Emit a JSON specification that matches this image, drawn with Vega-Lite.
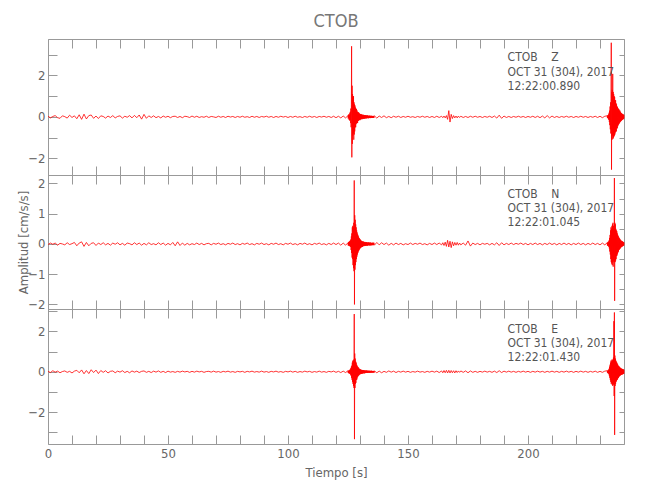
{
"$schema":"https://vega.github.io/schema/vega-lite/v6.json",
"background":"white",
"padding":{"left":16,"top":12,"right":5,"bottom":5},
"datasets":{"d":[
{"t":0,"z":0.03,"n":-0.02,"e":0.02},{"t":1,"z":-0.05,"n":0.03,"e":-0.04},{"t":2,"z":0.02,"n":-0.01,"e":0.05},{"t":3,"z":0.06,"n":0.03,"e":-0.02},{"t":4,"z":-0.04,"n":-0.04,"e":0.03},{"t":5,"z":-0.07,"n":0.02,"e":-0.05},{"t":6,"z":0.05,"n":0.0,"e":0.01},{"t":7,"z":0.01,"n":-0.03,"e":0.04},{"t":8,"z":-0.06,"n":0.04,"e":-0.03},{"t":9,"z":0.08,"n":-0.02,"e":0.02},
{"t":10,"z":-0.03,"n":0.01,"e":-0.06},{"t":11,"z":0.05,"n":0.05,"e":0.03},{"t":12,"z":-0.09,"n":-0.06,"e":0.07},{"t":13,"z":0.1,"n":0.03,"e":-0.05},{"t":14,"z":-0.12,"n":0.07,"e":0.09},{"t":15,"z":0.13,"n":-0.08,"e":-0.1},{"t":16,"z":-0.1,"n":0.05,"e":0.06},{"t":17,"z":0.06,"n":-0.06,"e":-0.09},{"t":18,"z":0.09,"n":0.02,"e":0.1},{"t":19,"z":-0.07,"n":0.04,"e":-0.04},
{"t":20,"z":0.04,"n":-0.05,"e":0.08},{"t":21,"z":-0.08,"n":0.03,"e":-0.09},{"t":22,"z":0.05,"n":-0.02,"e":0.06},{"t":23,"z":0.02,"n":0.04,"e":-0.03},{"t":24,"z":-0.06,"n":-0.03,"e":0.05},{"t":25,"z":0.04,"n":0.02,"e":-0.06},{"t":26,"z":-0.03,"n":-0.04,"e":0.02},{"t":27,"z":0.06,"n":0.03,"e":0.04},{"t":28,"z":-0.05,"n":-0.01,"e":-0.05},{"t":29,"z":0.02,"n":0.04,"e":0.03},
{"t":30,"z":0.05,"n":-0.03,"e":-0.02},{"t":31,"z":-0.06,"n":0.02,"e":0.05},{"t":32,"z":0.03,"n":-0.04,"e":-0.04},{"t":33,"z":-0.02,"n":0.03,"e":0.02},{"t":34,"z":0.06,"n":0.01,"e":-0.05},{"t":35,"z":-0.05,"n":-0.03,"e":0.04},{"t":36,"z":0.07,"n":0.04,"e":-0.02},{"t":37,"z":-0.04,"n":-0.02,"e":0.03},{"t":38,"z":0.09,"n":0.03,"e":-0.04},{"t":39,"z":-0.11,"n":-0.04,"e":0.02},
{"t":40,"z":0.12,"n":0.02,"e":0.04},{"t":41,"z":-0.07,"n":-0.03,"e":-0.03},{"t":42,"z":0.05,"n":0.04,"e":0.02},{"t":43,"z":-0.03,"n":-0.02,"e":-0.04},{"t":44,"z":0.05,"n":0.01,"e":0.03},{"t":45,"z":-0.04,"n":-0.03,"e":-0.02},{"t":46,"z":0.02,"n":0.04,"e":0.04},{"t":47,"z":-0.05,"n":-0.02,"e":-0.03},{"t":48,"z":0.04,"n":0.03,"e":0.02},{"t":49,"z":-0.02,"n":-0.04,"e":-0.04},
{"t":50,"z":0.03,"n":0.02,"e":0.03},{"t":51,"z":-0.04,"n":-0.03,"e":-0.02},{"t":52,"z":0.02,"n":0.05,"e":0.01},{"t":53,"z":0.03,"n":-0.06,"e":-0.03},{"t":54,"z":-0.03,"n":0.07,"e":0.02},{"t":55,"z":0.02,"n":-0.05,"e":-0.02},{"t":56,"z":-0.04,"n":0.03,"e":0.03},{"t":57,"z":0.03,"n":-0.04,"e":-0.01},{"t":58,"z":0.01,"n":0.02,"e":0.02},{"t":59,"z":-0.03,"n":-0.03,"e":-0.03},
{"t":60,"z":0.04,"n":0.01,"e":0.02},{"t":61,"z":-0.02,"n":-0.02,"e":-0.02},{"t":62,"z":0.03,"n":0.03,"e":0.03},{"t":63,"z":-0.03,"n":-0.02,"e":-0.01},{"t":64,"z":0.01,"n":0.02,"e":0.02},{"t":65,"z":-0.02,"n":-0.03,"e":-0.03},{"t":66,"z":0.03,"n":0.01,"e":0.01},{"t":67,"z":-0.03,"n":0.02,"e":0.02},{"t":68,"z":0.02,"n":-0.03,"e":-0.02},{"t":69,"z":0.0,"n":0.02,"e":0.03},
{"t":70,"z":-0.03,"n":-0.01,"e":-0.02},{"t":71,"z":0.03,"n":0.03,"e":0.01},{"t":72,"z":-0.02,"n":-0.02,"e":-0.03},{"t":73,"z":0.02,"n":0.01,"e":0.02},{"t":74,"z":-0.03,"n":-0.03,"e":-0.01},{"t":75,"z":0.03,"n":0.02,"e":0.03},{"t":76,"z":-0.01,"n":-0.01,"e":-0.02},{"t":77,"z":0.02,"n":0.03,"e":0.01},{"t":78,"z":-0.03,"n":-0.02,"e":-0.03},{"t":79,"z":0.02,"n":0.01,"e":0.02},
{"t":80,"z":-0.02,"n":-0.03,"e":-0.01},{"t":81,"z":0.03,"n":0.02,"e":0.02},{"t":82,"z":-0.02,"n":-0.01,"e":-0.03},{"t":83,"z":0.01,"n":0.03,"e":0.02},{"t":84,"z":-0.03,"n":-0.02,"e":-0.01},{"t":85,"z":0.03,"n":0.01,"e":0.03},{"t":86,"z":-0.02,"n":-0.03,"e":-0.02},{"t":87,"z":0.02,"n":0.02,"e":0.01},{"t":88,"z":-0.03,"n":-0.01,"e":-0.02},{"t":89,"z":0.02,"n":0.03,"e":0.03},
{"t":90,"z":-0.01,"n":-0.02,"e":-0.02},{"t":91,"z":0.03,"n":0.01,"e":0.01},{"t":92,"z":-0.02,"n":-0.03,"e":-0.03},{"t":93,"z":0.02,"n":0.02,"e":0.02},{"t":94,"z":-0.03,"n":-0.01,"e":-0.01},{"t":95,"z":0.02,"n":0.03,"e":0.03},{"t":96,"z":-0.02,"n":-0.02,"e":-0.02},{"t":97,"z":0.03,"n":0.01,"e":0.01},{"t":98,"z":-0.01,"n":-0.03,"e":-0.03},{"t":99,"z":0.02,"n":0.02,"e":0.02},
{"t":100,"z":-0.03,"n":-0.01,"e":-0.01},{"t":101,"z":0.02,"n":0.03,"e":0.03},{"t":102,"z":-0.02,"n":-0.02,"e":-0.02},{"t":103,"z":0.03,"n":0.01,"e":0.02},{"t":104,"z":-0.02,"n":-0.03,"e":-0.03},{"t":105,"z":0.01,"n":0.02,"e":0.01},{"t":106,"z":-0.03,"n":-0.01,"e":-0.02},{"t":107,"z":0.02,"n":0.03,"e":0.03},{"t":108,"z":-0.02,"n":-0.02,"e":-0.01},{"t":109,"z":0.03,"n":0.01,"e":0.02},
{"t":110,"z":-0.02,"n":-0.03,"e":-0.03},{"t":111,"z":0.02,"n":0.02,"e":0.01},{"t":112,"z":-0.03,"n":-0.01,"e":-0.02},{"t":113,"z":0.02,"n":0.03,"e":0.03},{"t":114,"z":-0.01,"n":-0.02,"e":-0.02},{"t":115,"z":0.03,"n":0.01,"e":0.01},{"t":116,"z":-0.02,"n":-0.03,"e":-0.03},{"t":117,"z":0.02,"n":0.02,"e":0.02},{"t":118,"z":-0.03,"n":-0.02,"e":-0.01},{"t":119,"z":0.03,"n":0.03,"e":0.03},
{"t":120,"z":-0.04,"n":-0.02,"e":-0.03},{"t":121,"z":0.03,"n":0.03,"e":0.02},{"t":122,"z":-0.05,"n":-0.04,"e":-0.04},{"t":123,"z":0.04,"n":0.03,"e":0.03},{"t":124,"z":-0.05,"n":-0.04,"e":-0.04},
{"t":125.0,"z":0.06,"n":0.04,"e":0.05},{"t":125.1,"z":-0.08,"n":-0.05,"e":-0.06},{"t":125.2,"z":0.1,"n":0.06,"e":0.05},{"t":125.3,"z":-0.07,"n":-0.05,"e":-0.07},{"t":125.4,"z":0.12,"n":0.07,"e":0.06},{"t":125.5,"z":-0.15,"n":-0.06,"e":-0.08},{"t":125.6,"z":0.1,"n":0.08,"e":0.07},{"t":125.7,"z":-0.18,"n":-0.07,"e":-0.09},{"t":125.8,"z":0.2,"n":0.1,"e":0.1},{"t":125.9,"z":-0.15,"n":-0.08,"e":-0.1},
{"t":126.0,"z":0.25,"n":0.12,"e":0.12},{"t":126.1,"z":-0.3,"n":-0.1,"e":-0.15},{"t":126.2,"z":0.4,"n":0.15,"e":0.18},{"t":126.3,"z":-0.5,"n":-0.2,"e":-0.2},{"t":126.4,"z":0.6,"n":0.25,"e":0.25},{"t":126.5,"z":3.4,"n":-0.3,"e":-0.3},{"t":126.6,"z":-1.95,"n":0.35,"e":0.3},{"t":126.7,"z":1.5,"n":-0.45,"e":-0.4},{"t":126.8,"z":-1.3,"n":0.55,"e":0.45},{"t":126.9,"z":1.1,"n":-0.5,"e":-0.5},
{"t":127.0,"z":-0.9,"n":0.6,"e":0.55},{"t":127.1,"z":0.95,"n":-0.7,"e":-0.6},{"t":127.2,"z":-0.8,"n":0.55,"e":0.5},{"t":127.3,"z":1.0,"n":-0.8,"e":-0.7},{"t":127.4,"z":-1.1,"n":0.7,"e":0.6},{"t":127.5,"z":0.7,"n":-0.9,"e":-0.8},{"t":127.6,"z":-0.85,"n":2.1,"e":2.85},{"t":127.7,"z":0.6,"n":-2.0,"e":-3.33},{"t":127.8,"z":-0.7,"n":0.95,"e":0.9},{"t":127.9,"z":0.55,"n":-0.85,"e":-0.8},
{"t":128.0,"z":-0.5,"n":0.8,"e":0.65},{"t":128.1,"z":0.45,"n":-0.7,"e":-0.6},{"t":128.2,"z":-0.5,"n":0.65,"e":0.5},{"t":128.3,"z":0.4,"n":-0.6,"e":-0.55},{"t":128.4,"z":-0.35,"n":0.55,"e":0.45},{"t":128.5,"z":0.38,"n":-0.5,"e":-0.4},{"t":128.6,"z":-0.3,"n":0.45,"e":0.35},{"t":128.7,"z":0.32,"n":-0.42,"e":-0.38},{"t":128.8,"z":-0.28,"n":0.38,"e":0.3},{"t":128.9,"z":0.25,"n":-0.35,"e":-0.28},
{"t":129.0,"z":-0.3,"n":0.32,"e":0.25},{"t":129.1,"z":0.22,"n":-0.3,"e":-0.24},{"t":129.2,"z":-0.2,"n":0.28,"e":0.22},{"t":129.3,"z":0.22,"n":-0.25,"e":-0.2},{"t":129.4,"z":-0.18,"n":0.24,"e":0.2},{"t":129.5,"z":0.2,"n":-0.22,"e":-0.18},{"t":129.6,"z":-0.16,"n":0.2,"e":0.16},{"t":129.7,"z":0.17,"n":-0.19,"e":-0.15},{"t":129.8,"z":-0.15,"n":0.18,"e":0.14},{"t":129.9,"z":0.14,"n":-0.16,"e":-0.13},
{"t":130.0,"z":-0.16,"n":0.15,"e":0.12},{"t":130.1,"z":0.13,"n":-0.14,"e":-0.12},{"t":130.2,"z":-0.12,"n":0.14,"e":0.11},{"t":130.3,"z":0.14,"n":-0.13,"e":-0.1},{"t":130.4,"z":-0.11,"n":0.12,"e":0.1},{"t":130.5,"z":0.12,"n":-0.11,"e":-0.11},{"t":130.6,"z":-0.1,"n":0.1,"e":0.09},{"t":130.7,"z":0.11,"n":-0.1,"e":-0.1},{"t":130.8,"z":-0.12,"n":0.09,"e":0.09},{"t":130.9,"z":0.1,"n":-0.1,"e":-0.08},
{"t":131.0,"z":-0.09,"n":0.08,"e":0.08},{"t":131.1,"z":0.1,"n":-0.09,"e":-0.09},{"t":131.2,"z":-0.1,"n":0.08,"e":0.08},{"t":131.3,"z":0.08,"n":-0.07,"e":-0.07},{"t":131.4,"z":-0.09,"n":0.08,"e":0.08},{"t":131.5,"z":0.1,"n":-0.07,"e":-0.07},{"t":131.6,"z":-0.08,"n":0.06,"e":0.07},{"t":131.7,"z":0.07,"n":-0.07,"e":-0.08},{"t":131.8,"z":-0.09,"n":0.06,"e":0.06},{"t":131.9,"z":0.08,"n":-0.06,"e":-0.07},
{"t":132.0,"z":-0.07,"n":0.07,"e":0.06},{"t":132.1,"z":0.08,"n":-0.06,"e":-0.07},{"t":132.2,"z":-0.08,"n":0.05,"e":0.06},{"t":132.3,"z":0.07,"n":-0.06,"e":-0.06},{"t":132.4,"z":-0.06,"n":0.06,"e":0.05},{"t":132.5,"z":0.08,"n":-0.05,"e":-0.06},{"t":132.6,"z":-0.07,"n":0.06,"e":0.06},{"t":132.7,"z":0.06,"n":-0.05,"e":-0.05},{"t":132.8,"z":-0.07,"n":0.05,"e":0.06},{"t":132.9,"z":0.06,"n":-0.06,"e":-0.05},
{"t":133.0,"z":-0.06,"n":0.05,"e":0.05},{"t":133.1,"z":0.07,"n":-0.05,"e":-0.06},{"t":133.2,"z":-0.05,"n":0.04,"e":0.05},{"t":133.3,"z":0.06,"n":-0.05,"e":-0.05},{"t":133.4,"z":-0.07,"n":0.05,"e":0.04},{"t":133.5,"z":0.05,"n":-0.04,"e":-0.05},{"t":133.6,"z":-0.06,"n":0.05,"e":0.05},{"t":133.7,"z":0.05,"n":-0.04,"e":-0.04},{"t":133.8,"z":-0.06,"n":0.04,"e":0.05},{"t":133.9,"z":0.05,"n":-0.05,"e":-0.05},
{"t":134.0,"z":-0.05,"n":0.04,"e":0.04},{"t":134.1,"z":0.06,"n":-0.04,"e":-0.05},{"t":134.2,"z":-0.05,"n":0.05,"e":0.05},{"t":134.3,"z":0.05,"n":-0.04,"e":-0.04},{"t":134.4,"z":-0.06,"n":0.04,"e":0.04},{"t":134.5,"z":0.04,"n":-0.05,"e":-0.05},{"t":134.6,"z":-0.05,"n":0.04,"e":0.04},{"t":134.7,"z":0.05,"n":-0.04,"e":-0.04},{"t":134.8,"z":-0.04,"n":0.03,"e":0.05},{"t":134.9,"z":0.05,"n":-0.04,"e":-0.04},
{"t":135.0,"z":-0.05,"n":0.04,"e":0.04},{"t":135.1,"z":0.04,"n":-0.03,"e":-0.04},{"t":135.2,"z":-0.05,"n":0.04,"e":0.03},{"t":135.3,"z":0.04,"n":-0.04,"e":-0.04},{"t":135.4,"z":-0.04,"n":0.03,"e":0.04},{"t":135.5,"z":0.05,"n":-0.04,"e":-0.03},{"t":135.6,"z":-0.04,"n":0.04,"e":0.04},{"t":135.7,"z":0.04,"n":-0.03,"e":-0.04},{"t":135.8,"z":-0.05,"n":0.04,"e":0.03},{"t":135.9,"z":0.04,"n":-0.03,"e":-0.04},
{"t":136,"z":0.05,"n":-0.04,"e":0.04},{"t":137,"z":-0.06,"n":0.05,"e":-0.05},{"t":138,"z":0.04,"n":-0.03,"e":0.03},{"t":139,"z":-0.03,"n":0.04,"e":-0.05},{"t":140,"z":0.05,"n":-0.02,"e":0.02},{"t":141,"z":-0.04,"n":0.03,"e":-0.03},{"t":142,"z":0.02,"n":-0.04,"e":0.04},{"t":143,"z":-0.04,"n":0.02,"e":-0.02},{"t":144,"z":0.03,"n":-0.03,"e":0.03},{"t":145,"z":-0.02,"n":0.03,"e":-0.04},
{"t":146,"z":0.03,"n":-0.02,"e":0.02},{"t":147,"z":-0.03,"n":0.02,"e":-0.02},{"t":148,"z":0.02,"n":-0.03,"e":0.03},{"t":149,"z":-0.02,"n":0.01,"e":-0.02},{"t":150,"z":0.03,"n":-0.02,"e":0.02},{"t":151,"z":-0.02,"n":0.03,"e":-0.03},{"t":152,"z":0.01,"n":-0.02,"e":0.01},{"t":153,"z":-0.03,"n":0.02,"e":-0.02},{"t":154,"z":0.02,"n":-0.01,"e":0.03},{"t":155,"z":-0.02,"n":0.03,"e":-0.02},
{"t":156,"z":0.03,"n":-0.02,"e":0.01},{"t":157,"z":-0.02,"n":0.01,"e":-0.03},{"t":158,"z":0.02,"n":-0.03,"e":0.02},{"t":159,"z":-0.03,"n":0.02,"e":-0.02},{"t":160,"z":0.02,"n":-0.02,"e":0.03},{"t":161,"z":-0.03,"n":0.03,"e":-0.02},{"t":162,"z":0.03,"n":-0.02,"e":0.03},{"t":163,"z":-0.03,"n":0.03,"e":-0.04},
{"t":164,"z":0.03,"n":-0.03,"e":0.04},{"t":164.5,"z":-0.04,"n":0.04,"e":-0.05},{"t":165,"z":0.04,"n":-0.05,"e":0.06},{"t":165.5,"z":-0.05,"n":0.06,"e":-0.05},{"t":166,"z":0.06,"n":-0.08,"e":0.07},{"t":166.5,"z":-0.12,"n":0.12,"e":-0.06},{"t":167,"z":0.3,"n":-0.1,"e":0.07},{"t":167.5,"z":-0.25,"n":0.09,"e":-0.06},{"t":168,"z":0.12,"n":-0.12,"e":0.06},{"t":168.5,"z":-0.08,"n":0.07,"e":-0.05},
{"t":169,"z":0.06,"n":-0.06,"e":0.05},{"t":169.5,"z":-0.05,"n":0.05,"e":-0.06},{"t":170,"z":0.04,"n":-0.04,"e":0.05},{"t":170.5,"z":-0.05,"n":0.05,"e":-0.04},{"t":171,"z":0.04,"n":-0.04,"e":0.04},{"t":171.5,"z":-0.03,"n":0.03,"e":-0.03},{"t":172,"z":0.03,"n":-0.03,"e":0.04},
{"t":173,"z":-0.03,"n":0.03,"e":-0.03},{"t":174,"z":0.02,"n":-0.04,"e":0.04},{"t":175,"z":-0.03,"n":0.1,"e":-0.05},{"t":176,"z":0.03,"n":-0.07,"e":0.04},{"t":177,"z":-0.02,"n":0.03,"e":-0.03},{"t":178,"z":0.03,"n":-0.02,"e":0.02},{"t":179,"z":-0.02,"n":0.02,"e":-0.03},{"t":180,"z":0.02,"n":-0.03,"e":0.02},{"t":181,"z":-0.03,"n":0.02,"e":-0.02},{"t":182,"z":0.02,"n":-0.01,"e":0.03},
{"t":183,"z":-0.02,"n":0.02,"e":-0.02},{"t":184,"z":0.03,"n":-0.03,"e":0.02},{"t":185,"z":-0.03,"n":0.02,"e":-0.03},{"t":186,"z":0.04,"n":-0.03,"e":0.03},{"t":187,"z":-0.06,"n":0.04,"e":-0.04},{"t":188,"z":0.08,"n":-0.05,"e":0.05},{"t":189,"z":-0.07,"n":0.04,"e":-0.04},{"t":190,"z":0.04,"n":-0.03,"e":0.03},{"t":191,"z":-0.03,"n":0.02,"e":-0.02},{"t":192,"z":0.02,"n":-0.02,"e":0.03},
{"t":193,"z":-0.03,"n":0.03,"e":-0.02},{"t":194,"z":0.02,"n":-0.02,"e":0.02},{"t":195,"z":-0.02,"n":0.02,"e":-0.03},{"t":196,"z":0.03,"n":-0.01,"e":0.02},{"t":197,"z":-0.02,"n":0.03,"e":-0.02},{"t":198,"z":0.02,"n":-0.02,"e":0.03},{"t":199,"z":-0.03,"n":0.02,"e":-0.02},{"t":200,"z":0.02,"n":-0.03,"e":0.02},{"t":201,"z":-0.02,"n":0.02,"e":-0.03},{"t":202,"z":0.03,"n":-0.02,"e":0.02},
{"t":203,"z":-0.03,"n":0.03,"e":-0.02},{"t":204,"z":0.03,"n":-0.02,"e":0.03},{"t":205,"z":-0.04,"n":0.02,"e":-0.02},{"t":206,"z":0.04,"n":-0.03,"e":0.02},{"t":207,"z":-0.05,"n":0.02,"e":-0.03},{"t":208,"z":0.06,"n":-0.02,"e":0.02},{"t":209,"z":-0.05,"n":0.03,"e":-0.02},{"t":210,"z":0.04,"n":-0.02,"e":0.03},{"t":211,"z":-0.03,"n":0.02,"e":-0.02},{"t":212,"z":0.02,"n":-0.03,"e":0.02},
{"t":213,"z":-0.03,"n":0.02,"e":-0.03},{"t":214,"z":0.02,"n":-0.02,"e":0.02},{"t":215,"z":-0.02,"n":0.03,"e":-0.02},{"t":216,"z":0.03,"n":-0.02,"e":0.03},{"t":217,"z":-0.02,"n":0.02,"e":-0.02},{"t":218,"z":0.02,"n":-0.03,"e":0.02},{"t":219,"z":-0.03,"n":0.02,"e":-0.03},{"t":220,"z":0.02,"n":-0.02,"e":0.02},{"t":221,"z":-0.02,"n":0.03,"e":-0.02},{"t":222,"z":0.03,"n":-0.02,"e":0.03},
{"t":223,"z":-0.02,"n":0.02,"e":-0.02},{"t":224,"z":0.02,"n":-0.03,"e":0.02},{"t":225,"z":-0.03,"n":0.02,"e":-0.03},{"t":226,"z":0.02,"n":-0.02,"e":0.02},{"t":227,"z":-0.02,"n":0.03,"e":-0.02},{"t":228,"z":0.03,"n":-0.02,"e":0.03},{"t":229,"z":-0.03,"n":0.02,"e":-0.03},{"t":230,"z":0.03,"n":-0.03,"e":0.02},{"t":231,"z":-0.04,"n":0.03,"e":-0.03},{"t":232,"z":0.03,"n":-0.03,"e":0.03},
{"t":233.0,"z":0.05,"n":0.04,"e":0.05},{"t":233.1,"z":-0.06,"n":-0.05,"e":-0.05},{"t":233.2,"z":0.07,"n":0.05,"e":0.06},{"t":233.3,"z":-0.05,"n":-0.06,"e":-0.07},{"t":233.4,"z":0.08,"n":0.07,"e":0.06},{"t":233.5,"z":-0.1,"n":-0.06,"e":-0.08},{"t":233.6,"z":0.12,"n":0.08,"e":0.1},{"t":233.7,"z":-0.15,"n":-0.1,"e":-0.12},{"t":233.8,"z":0.2,"n":0.12,"e":0.15},{"t":233.9,"z":-0.25,"n":-0.15,"e":-0.2},
{"t":234.0,"z":0.3,"n":0.2,"e":0.25},{"t":234.1,"z":-0.4,"n":-0.25,"e":-0.3},{"t":234.2,"z":0.5,"n":0.3,"e":0.35},{"t":234.3,"z":-0.6,"n":-0.35,"e":-0.4},{"t":234.4,"z":0.7,"n":0.45,"e":0.45},{"t":234.5,"z":-0.8,"n":-0.5,"e":-0.5},{"t":234.6,"z":0.9,"n":0.55,"e":0.55},{"t":234.7,"z":3.57,"n":-0.6,"e":-0.6},{"t":234.8,"z":-2.54,"n":0.5,"e":0.5},{"t":234.9,"z":1.2,"n":-0.65,"e":-0.55},
{"t":235.0,"z":-1.1,"n":0.6,"e":0.6},{"t":235.1,"z":1.3,"n":-0.7,"e":-0.65},{"t":235.2,"z":-0.9,"n":0.65,"e":0.55},{"t":235.3,"z":2.07,"n":-0.6,"e":-0.7},{"t":235.4,"z":-1.06,"n":0.7,"e":0.6},{"t":235.5,"z":1.2,"n":-0.75,"e":-0.65},{"t":235.6,"z":-1.0,"n":0.6,"e":0.7},{"t":235.7,"z":1.1,"n":-0.55,"e":-0.6},{"t":235.8,"z":-0.95,"n":0.5,"e":2.5},{"t":235.9,"z":1.0,"n":-0.6,"e":-1.2},
{"t":236.0,"z":-0.9,"n":2.18,"e":2.93},{"t":236.1,"z":0.95,"n":-1.88,"e":-3.12},{"t":236.2,"z":-0.85,"n":0.7,"e":0.8},{"t":236.3,"z":0.8,"n":-0.6,"e":-0.7},{"t":236.4,"z":-0.75,"n":0.65,"e":0.65},{"t":236.5,"z":0.8,"n":-0.55,"e":-0.6},{"t":236.6,"z":-0.7,"n":0.5,"e":0.55},{"t":236.7,"z":0.65,"n":-0.5,"e":-0.5},{"t":236.8,"z":-0.7,"n":0.45,"e":0.5},{"t":236.9,"z":0.6,"n":-0.4,"e":-0.45},
{"t":237.0,"z":-0.55,"n":0.42,"e":0.45},{"t":237.1,"z":0.5,"n":-0.38,"e":-0.4},{"t":237.2,"z":-0.55,"n":0.35,"e":0.4},{"t":237.3,"z":0.48,"n":-0.32,"e":-0.38},{"t":237.4,"z":-0.45,"n":0.3,"e":0.35},{"t":237.5,"z":0.42,"n":-0.28,"e":-0.32},{"t":237.6,"z":-0.4,"n":0.26,"e":0.3},{"t":237.7,"z":0.38,"n":-0.25,"e":-0.3},{"t":237.8,"z":-0.35,"n":0.22,"e":0.28},{"t":237.9,"z":0.36,"n":-0.2,"e":-0.25},
{"t":238.0,"z":-0.32,"n":0.2,"e":0.25},{"t":238.1,"z":0.3,"n":-0.18,"e":-0.22},{"t":238.2,"z":-0.28,"n":0.17,"e":0.22},{"t":238.3,"z":0.3,"n":-0.16,"e":-0.2},{"t":238.4,"z":-0.25,"n":0.15,"e":0.2},{"t":238.5,"z":0.24,"n":-0.14,"e":-0.18},{"t":238.6,"z":-0.22,"n":0.13,"e":0.18},{"t":238.7,"z":0.2,"n":-0.12,"e":-0.16},{"t":238.8,"z":-0.2,"n":0.11,"e":0.16},{"t":238.9,"z":0.18,"n":-0.1,"e":-0.15},
{"t":239.0,"z":-0.17,"n":0.1,"e":0.15},{"t":239.1,"z":0.16,"n":-0.09,"e":-0.14},{"t":239.2,"z":-0.15,"n":0.09,"e":0.14},{"t":239.3,"z":0.14,"n":-0.08,"e":-0.13},{"t":239.4,"z":-0.13,"n":0.08,"e":0.13},{"t":239.5,"z":0.12,"n":-0.07,"e":-0.12},{"t":239.6,"z":-0.12,"n":0.07,"e":0.12},{"t":239.7,"z":0.11,"n":-0.06,"e":-0.11},{"t":239.8,"z":-0.1,"n":0.06,"e":0.11},{"t":239.9,"z":0.1,"n":-0.05,"e":-0.1},
{"t":240,"z":-0.08,"n":0.05,"e":0.1}
]},
"data":{"name":"d"},
"vconcat":[
{"width":576,"height":136,
 "title":{"text":"CTOB","anchor":"middle","frame":"group","fontSize":18,"font":"Liberation Sans Narrow, DejaVu Sans Condensed, sans-serif","fontWeight":"normal","color":"#777777","offset":8},
 "layer":[
  {"mark":{"type":"line","color":"#ff0000","strokeWidth":0.8},
   "encoding":{
    "x":{"field":"t","type":"quantitative","scale":{"domain":[0,240],"nice":false,"zero":false},"axis":{"orient":"bottom","values":[0,10,20,30,40,50,60,70,80,90,100,110,120,130,140,150,160,170,180,190,200,210,220,230,240],"labels":false,"title":null}},
    "y":{"field":"z","type":"quantitative","scale":{"domain":[-2.8,3.75],"nice":false,"zero":false},"axis":{"orient":"left","values":[-2,-1,0,1,2,3],"format":"d","labelExpr":"datum.value % 2 === 0 ? datum.label : ''","title":null}}}},
  {"data":{"values":[{}]},
   "mark":{"type":"text","text":["CTOB\u00a0\u00a0\u00a0\u00a0Z","OCT 31 (304), 2017","12:22:00.890"],"align":"left","baseline":"top","font":"Liberation Sans Narrow, DejaVu Sans Condensed, sans-serif","fontSize":12,"lineHeight":14.3,"color":"#555555"},
   "encoding":{
    "x":{"datum":191.5,"type":"quantitative","scale":{"domain":[0,240],"nice":false,"zero":false},"axis":{"orient":"top","values":[0,10,20,30,40,50,60,70,80,90,100,110,120,130,140,150,160,170,180,190,200,210,220,230,240],"labels":false,"title":null}},
    "y":{"datum":3.1,"type":"quantitative","scale":{"domain":[-2.8,3.75],"nice":false,"zero":false},"axis":{"orient":"right","values":[-2,-1,0,1,2,3],"labels":false,"title":null,"tickSize":-5}}}}
 ],
 "resolve":{"scale":{"x":"independent","y":"independent"}}
},
{"width":576,"height":134,
 "layer":[
  {"mark":{"type":"line","color":"#ff0000","strokeWidth":0.8},
   "encoding":{
    "x":{"field":"t","type":"quantitative","scale":{"domain":[0,240],"nice":false,"zero":false},"axis":{"orient":"bottom","values":[0,10,20,30,40,50,60,70,80,90,100,110,120,130,140,150,160,170,180,190,200,210,220,230,240],"labels":false,"title":null}},
    "y":{"field":"n","type":"quantitative","scale":{"domain":[-2.15,2.28],"nice":false,"zero":false},"axis":{"orient":"left","values":[-2,-1.5,-1,-0.5,0,0.5,1,1.5,2],"format":"d","labelExpr":"datum.value % 1 === 0 ? datum.label : ''","title":"Amplitud [cm/s/s]","titleX":-25,"titleAngle":-90,"titleAlign":"center","titleBaseline":"middle"}}}},
  {"data":{"values":[{}]},
   "mark":{"type":"text","text":["CTOB\u00a0\u00a0\u00a0\u00a0N","OCT 31 (304), 2017","12:22:01.045"],"align":"left","baseline":"top","font":"Liberation Sans Narrow, DejaVu Sans Condensed, sans-serif","fontSize":12,"lineHeight":14.3,"color":"#555555"},
   "encoding":{
    "x":{"datum":191.5,"type":"quantitative","scale":{"domain":[0,240],"nice":false,"zero":false},"axis":{"orient":"top","values":[0,10,20,30,40,50,60,70,80,90,100,110,120,130,140,150,160,170,180,190,200,210,220,230,240],"labels":false,"title":null}},
    "y":{"datum":1.83,"type":"quantitative","scale":{"domain":[-2.15,2.28],"nice":false,"zero":false},"axis":{"orient":"right","values":[-2,-1.5,-1,-0.5,0,0.5,1,1.5,2],"labels":false,"title":null,"tickSize":-5}}}}
 ],
 "resolve":{"scale":{"x":"independent","y":"independent"}}
},
{"width":576,"height":135,
 "layer":[
  {"mark":{"type":"line","color":"#ff0000","strokeWidth":0.8},
   "encoding":{
    "x":{"field":"t","type":"quantitative","scale":{"domain":[0,240],"nice":false,"zero":false},"axis":{"orient":"bottom","values":[0,10,20,30,40,50,60,70,80,90,100,110,120,130,140,150,160,170,180,190,200,210,220,230,240],"labelExpr":"datum.value % 50 === 0 ? datum.label : ''","labelFlush":false,"title":"Tiempo [s]","titlePadding":6}},
    "y":{"field":"e","type":"quantitative","scale":{"domain":[-3.57,3.1],"nice":false,"zero":false},"axis":{"orient":"left","values":[-3,-2,-1,0,1,2,3],"format":"d","labelExpr":"datum.value % 2 === 0 ? datum.label : ''","title":null}}}},
  {"data":{"values":[{}]},
   "mark":{"type":"text","text":["CTOB\u00a0\u00a0\u00a0\u00a0E","OCT 31 (304), 2017","12:22:01.430"],"align":"left","baseline":"top","font":"Liberation Sans Narrow, DejaVu Sans Condensed, sans-serif","fontSize":12,"lineHeight":14.3,"color":"#555555"},
   "encoding":{
    "x":{"datum":191.5,"type":"quantitative","scale":{"domain":[0,240],"nice":false,"zero":false},"axis":{"orient":"top","values":[0,10,20,30,40,50,60,70,80,90,100,110,120,130,140,150,160,170,180,190,200,210,220,230,240],"labels":false,"title":null}},
    "y":{"datum":2.37,"type":"quantitative","scale":{"domain":[-3.57,3.1],"nice":false,"zero":false},"axis":{"orient":"right","values":[-3,-2,-1,0,1,2,3],"labels":false,"title":null,"tickSize":-5}}}}
 ],
 "resolve":{"scale":{"x":"independent","y":"independent"}}
}
],
"spacing":0,
"bounds":"flush",
"config":{
 "view":{"stroke":null},
 "axis":{"domainColor":"#999999","tickColor":"#999999","labelColor":"#666666","titleColor":"#666666","labelFont":"Liberation Sans Narrow, DejaVu Sans Condensed, sans-serif","titleFont":"Liberation Sans Narrow, DejaVu Sans Condensed, sans-serif","labelFontSize":13,"titleFontSize":13,"titleFontWeight":"normal","tickSize":-9,"labelPadding":12,"grid":false,"domainWidth":1,"tickWidth":1}
}
}
